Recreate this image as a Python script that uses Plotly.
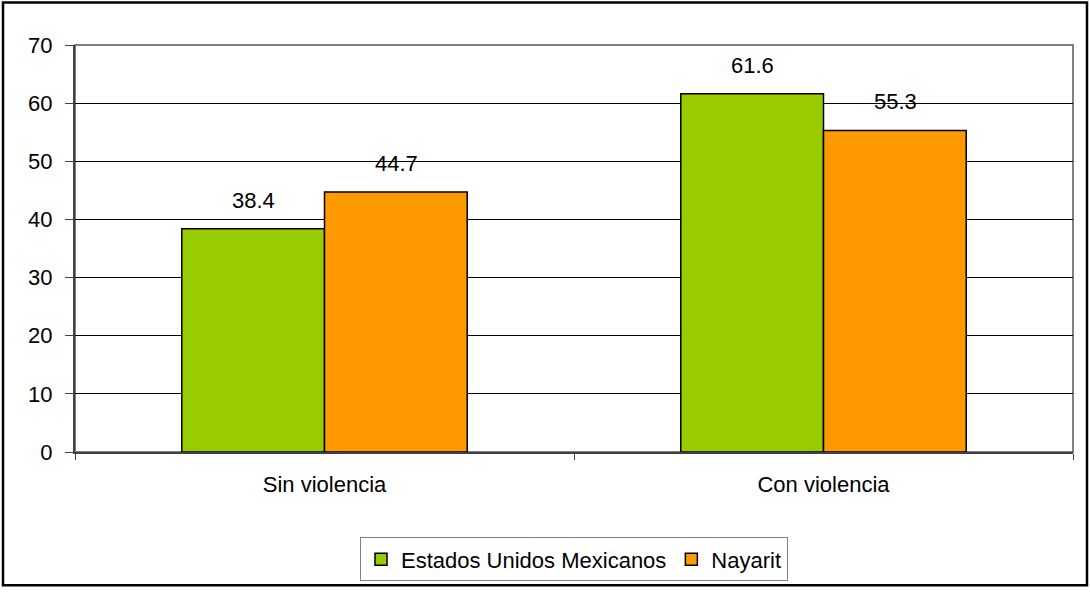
import plotly.graph_objects as go

categorias = ["Sin violencia", "Con violencia"]
series = ["Estados Unidos Mexicanos", "Nayarit"]
valores_mexico = [38.4, 61.6]
valores_nayarit = [44.7, 55.3]
colores = ["#99CC00", "#FF9900"]

fig = go.Figure()
for nombre, vals, col in zip(series, [valores_mexico, valores_nayarit], colores):
    fig.add_trace(go.Bar(
        x=categorias, y=vals, name=nombre,
        marker=dict(color=col, line=dict(color="black", width=1.5)),
    ))

# etiquetas de valor sobre cada barra
for vals, desplaz in zip([valores_mexico, valores_nayarit], [-71.5, 71.5]):
    for cat, v in zip(categorias, vals):
        fig.add_annotation(x=cat, y=v, text=f"{v:.1f}", showarrow=False,
                           xshift=desplaz, yshift=14, yanchor="bottom",
                           font=dict(size=22, color="black"))

fig.update_layout(
    width=1090, height=594,
    margin=dict(l=75, r=17, t=45, b=137),
    plot_bgcolor="white", paper_bgcolor="white",
    font=dict(family="Liberation Sans, Arial", size=22, color="black"),
    barmode="group", bargap=0.428, bargroupgap=0,
    legend=dict(orientation="h", x=0.5, xanchor="center", y=-0.21, yanchor="top",
                bordercolor="#808080", borderwidth=1, font=dict(size=22),
                itemwidth=30, traceorder="normal"),
    showlegend=True,
)
fig.update_yaxes(range=[0, 70], dtick=10, showgrid=True, gridcolor="black", gridwidth=1,
                 showline=True, linecolor="#404040", linewidth=2, ticks="outside",
                 ticklen=8, tickcolor="#404040", zeroline=False, ticklabelstandoff=8)
fig.update_xaxes(showline=True, linecolor="#404040", linewidth=1.5, ticks="outside",
                 tickson="boundaries", ticklen=6, tickcolor="#404040", ticklabelstandoff=12)

# borde del area de trazado
fig.add_shape(type="rect", xref="paper", yref="paper", x0=0, x1=1, y0=0, y1=1,
              line=dict(color="#808080", width=2), layer="below")
# borde exterior
fig.add_shape(type="rect", xref="paper", yref="paper",
              x0=-72 / 998, x1=1 + 14 / 998, y0=-135 / 412, y1=1 + 43 / 412,
              line=dict(color="black", width=2.5))

fig.write_html("out.html", config={"displayModeBar": False},
               post_script="document.body.style.margin='0';")
